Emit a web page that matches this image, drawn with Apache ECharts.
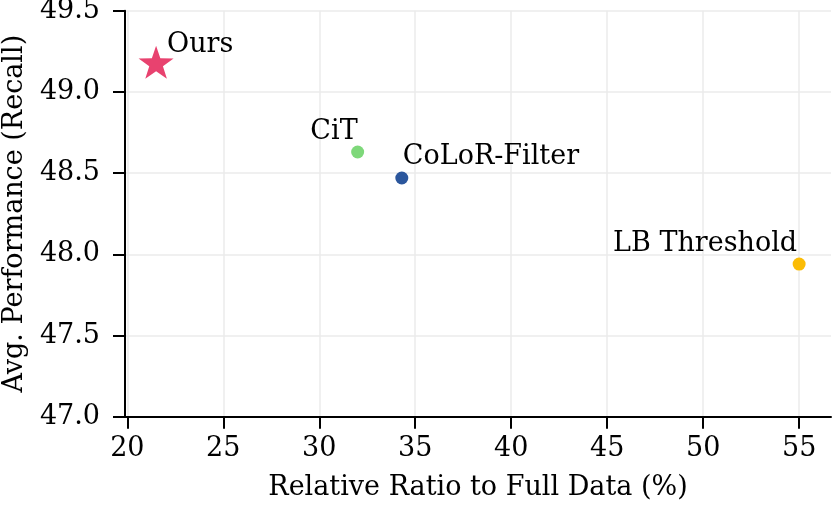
<!DOCTYPE html>
<html><head><meta charset="utf-8">
<script src="https://cdn.jsdelivr.net/npm/echarts@6/dist/echarts.min.js"></script>
<style>html,body{margin:0;padding:0;background:#fff}#c{width:832px;height:507px}</style>
</head><body><div id="c"></div>
<script>
const methods = ['Ours', 'CiT', 'CoLoR-Filter', 'LB Threshold'];
const ratio = [21.5, 32.0, 34.3, 55.0];
const recall = [49.17, 48.63, 48.47, 47.94];
const colors = ['#e8426f', '#7ed87a', '#2b569c', '#fbbc05'];
const xTicks = [20, 25, 30, 35, 40, 45, 50, 55];
const yTicks = [47.0, 47.5, 48.0, 48.5, 49.0, 49.5];

const FONT = 'DejaVu Serif';
const FS = 27;
const labelCfg = [
  {align: 'left', offset: [11, -17]},
  {align: 'right', offset: [0, -20]},
  {align: 'left', offset: [1, -21]},
  {align: 'right', offset: [-2, -20]}
];
const series = methods.map((m, i) => ({
  type: 'scatter',
  name: m,
  data: [[ratio[i], recall[i]]],
  symbol: i === 0 ? 'path://M50,0 L61.8,35.1 L98.9,35.5 L69.1,57.6 L80.2,93 L50,71.5 L19.8,93 L30.9,57.6 L1.1,35.5 L38.2,35.1 Z' : 'circle',
  symbolSize: i === 0 ? [35, 33] : 13,
  symbolOffset: i === 0 ? [0, -2] : [0, 0],
  itemStyle: {color: colors[i], opacity: 1},
  label: {
    show: true, formatter: m, position: 'inside',
    align: labelCfg[i].align, verticalAlign: 'middle', offset: labelCfg[i].offset,
    color: '#000', fontFamily: FONT, fontSize: FS
  },
  z: 3
}));

const chart = echarts.init(document.getElementById('c'), null, {renderer: 'canvas'});
chart.setOption({
  animation: false,
  grid: {left: 125, right: 1, top: 10.7, bottom: 90.3, containLabel: false, outerBoundsMode: 'none'},
  xAxis: {
    type: 'value', min: 19.88, max: 56.66,
    name: 'Relative Ratio to Full Data (%)', nameLocation: 'middle', nameGap: 58,
    nameTextStyle: {fontFamily: FONT, fontSize: FS, color: '#000'},
    axisLine: {show: true, onZero: false, lineStyle: {color: '#000', width: 2}},
    axisTick: {show: true, length: 12, lineStyle: {color: '#000', width: 2}, customValues: xTicks},
    axisLabel: {customValues: xTicks, fontFamily: FONT, fontSize: FS, color: '#000', margin: 19},
    splitLine: {show: true, lineStyle: {color: '#ebebeb', width: 1.5}}
  },
  yAxis: {
    type: 'value', min: 47, max: 49.5, interval: 0.5,
    name: 'Avg. Performance (Recall)', nameLocation: 'middle', nameGap: 95, nameRotate: 90,
    nameTextStyle: {fontFamily: FONT, fontSize: FS, color: '#000'},
    axisLine: {show: true, onZero: false, lineStyle: {color: '#000', width: 2}},
    axisTick: {show: true, length: 12, lineStyle: {color: '#000', width: 2}},
    axisLabel: {formatter: v => v.toFixed(1), fontFamily: FONT, fontSize: FS, color: '#000', margin: 25},
    splitLine: {show: true, lineStyle: {color: '#ebebeb', width: 1.5}}
  },
  series: series
});
</script></body></html>
